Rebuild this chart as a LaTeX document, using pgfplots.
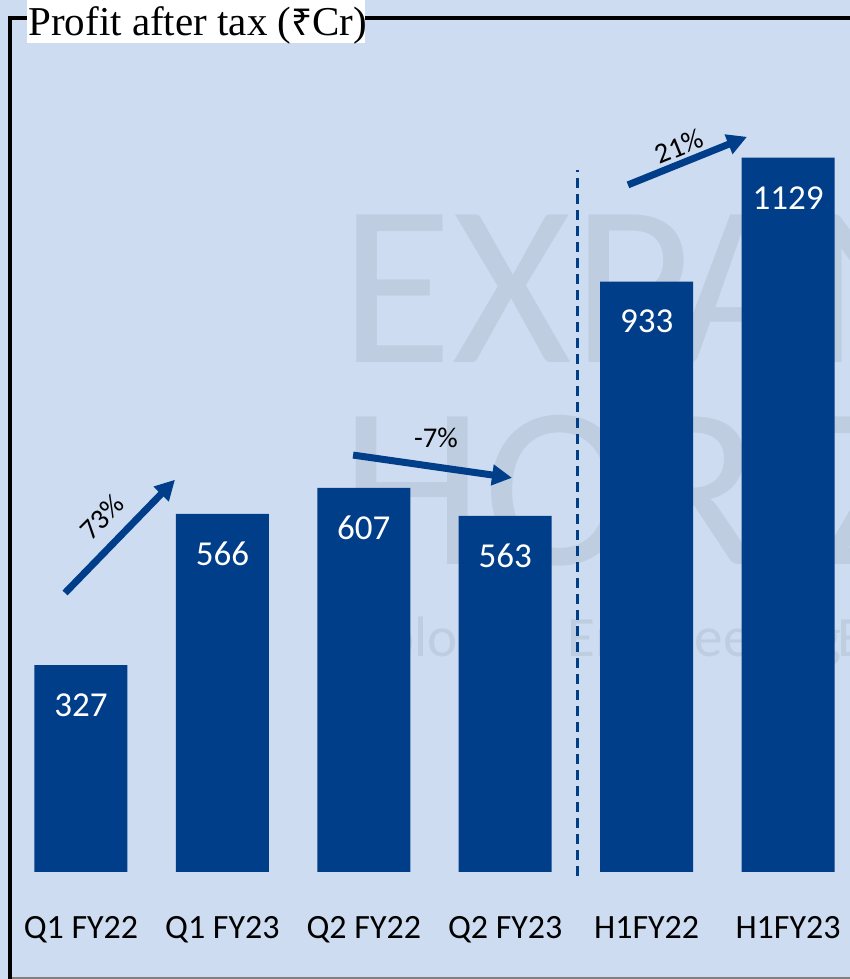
\documentclass[border=0pt]{standalone}
\usepackage{fontspec}
\setmainfont{Carlito}
\newfontfamily\titlefont{Liberation Serif}
\newfontfamily\rupeefont{Noto Sans}
\usepackage{pgfplots}
\usepackage{pgfplotstable}
\pgfplotsset{compat=1.18}
\usetikzlibrary{arrows.meta}

\definecolor{bg}{RGB}{205,220,241}
\definecolor{barblue}{RGB}{0,62,138}
\definecolor{wmark}{RGB}{190,205,224}

% profit after tax, Rs crore
\pgfplotstableread{
idx val
0 327
1 566
2 607
3 563
4 933
5 1129
}\pat

\begin{document}
\begin{tikzpicture}
\useasboundingbox (0,0) rectangle (425pt,489.5pt);
\fill[bg] (0,0) rectangle (425pt,489.5pt);

% faint logo in the background
\begin{scope}
\clip (0,0) rectangle (425pt,489.5pt);
\node[wmark, anchor=base west, inner sep=0, font=\fontsize{115}{115}\selectfont] at (170pt,308pt) {EXPANDING};
\node[wmark, anchor=base west, inner sep=0, font=\fontsize{115}{115}\selectfont] at (170pt,207pt) {HORIZONS};
\node[wmark, anchor=base west, inner sep=0, font=\fontsize{28.5}{28.5}\selectfont] at (166pt,161pt) {Explore};
\node[wmark, anchor=base west, inner sep=0, font=\fontsize{28.5}{28.5}\selectfont] at (283.5pt,161pt) {Engineering};
\node[wmark, anchor=base west, inner sep=0, font=\fontsize{28.5}{28.5}\selectfont] at (418.5pt,161pt) {Excellence};
\end{scope}

% frame
\draw[gray, line width=1pt] (5pt,0.5pt) -- (425pt,0.5pt);
\draw[black, line width=2pt] (5pt,0) -- (5pt,480.5pt) -- (425pt,480.5pt);

\begin{axis}[
  at={(5pt,53.5pt)}, anchor=south west,
  width=420pt, height=427pt, scale only axis,
  xmin=-0.502, xmax=5.438, ymin=0, ymax=1349.8,
  clip=false,
  axis line style={draw=none},
  tick style={draw=none},
  ytick=\empty,
  xtick={0,...,5},
  xticklabels={Q1 FY22, Q1 FY23, Q2 FY22, Q2 FY23, H1FY22, H1FY23},
  xticklabel style={anchor=base, yshift=-29pt, font=\fontsize{17}{17}\selectfont},
  /pgf/number format/assume math mode=true,
  /pgf/number format/1000 sep={},
  ybar, bar width=46.5pt,
  nodes near coords,
  every node near coord/.append style={anchor=center, yshift=-20pt, text=white, font=\fontsize{17.5}{17.5}\selectfont},
]
\addplot[fill=barblue, draw=none] table[x=idx, y=val]{\pat};

% split between quarters and half years
\draw[barblue, line width=1.5pt, dash pattern=on 5pt off 3pt] (axis cs:3.508,-6) -- (axis cs:3.508,1110);

% growth arrows
\draw[barblue, line width=3.5pt, -{Triangle[length=10pt,width=10pt]}] (axis cs:-0.113,441) -- (axis cs:0.665,620);
\draw[barblue, line width=3.5pt, -{Triangle[length=10pt,width=10pt]}] (axis cs:1.924,659) -- (axis cs:3.048,623);
\draw[barblue, line width=3.5pt, -{Triangle[length=10pt,width=10pt]}] (axis cs:3.868,1086) -- (axis cs:4.710,1162);
\node[rotate=45, font=\fontsize{14.3}{14.3}\selectfont] at (axis cs:0.149,561) {73\%};
\node[font=\fontsize{14.3}{14.3}\selectfont] at (axis cs:2.511,686) {-7\%};
\node[rotate=22, font=\fontsize{14.3}{14.3}\selectfont] at (axis cs:4.229,1147) {21\%};
\end{axis}

% title box
\fill[white] (13.5pt,468pt) rectangle (182.5pt,489.5pt);
\node[anchor=base west, inner sep=0, font=\titlefont\fontsize{20.5}{20.5}\selectfont] at (14pt,471.5pt) {Profit after tax ({\rupeefont\fontsize{18.5}{18.5}\selectfont ₹}Cr)};
\end{tikzpicture}
\end{document}
